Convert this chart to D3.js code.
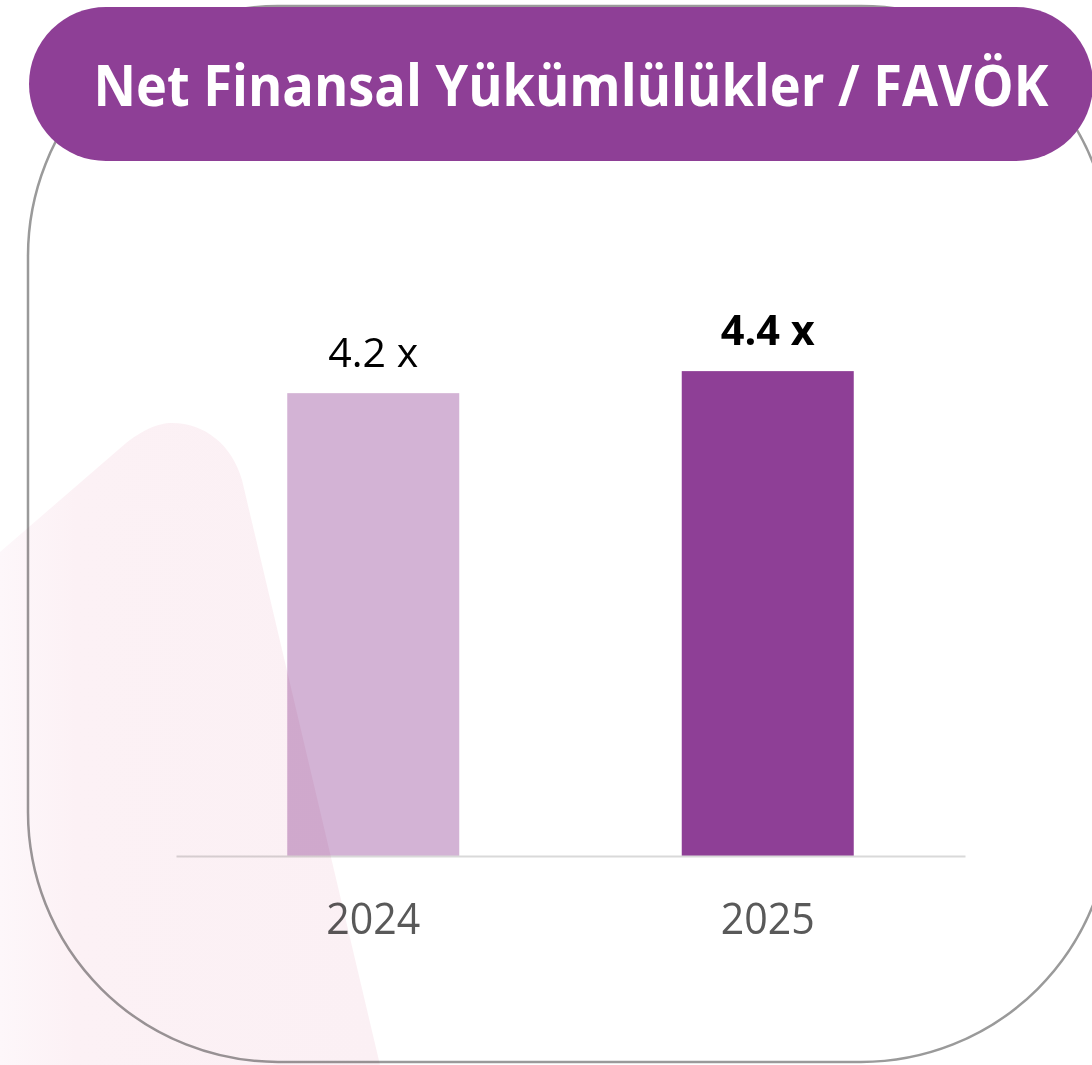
<!DOCTYPE html>
<html>
<head>
<meta charset="utf-8">
<script src="https://cdn.jsdelivr.net/npm/d3@7"></script>
<style>
  html, body { margin: 0; padding: 0; background: #fff; }
  svg { display: block; }
  text { font-family: "Open Sans", "Noto Sans", sans-serif; }
</style>
</head>
<body>
<div id="chart"></div>
<script>
// chart data
var title = "Net Finansal Yükümlülükler / FAVÖK";
var years = ["2024", "2025"];
var ratios = [4.2, 4.4];

var svgWidth = 1092;
var svgHeight = 1065;

var margin = { top: 305, right: 127, bottom: 209, left: 176 };
var width = svgWidth - margin.left - margin.right;
var height = svgHeight - margin.top - margin.bottom;

var barColors = ["#D3B3D5", "#8E3F96"];
var purple = "#8E3F96";

var svg = d3.select("#chart")
    .append("svg")
    .attr("width", svgWidth)
    .attr("height", svgHeight);

// soft pink shape gradient
var defs = svg.append("defs");
var grad = defs.append("linearGradient")
    .attr("id", "pinkFade")
    .attr("x1", "0").attr("x2", "1").attr("y1", "0").attr("y2", "0");
grad.append("stop").attr("offset", "0").attr("stop-color", "#FDF7FA");
grad.append("stop").attr("offset", "0.2").attr("stop-color", "#FCF1F5");
grad.append("stop").attr("offset", "1").attr("stop-color", "#FBF0F4");

// outer rounded frame
svg.append("rect")
    .attr("x", 28)
    .attr("y", 6)
    .attr("width", 1083)
    .attr("height", 1056)
    .attr("rx", 250)
    .attr("ry", 250)
    .attr("fill", "none")
    .attr("stroke", "#9A9A9A")
    .attr("stroke-width", 2.5);

var chartGroup = svg.append("g")
    .attr("transform", `translate(${margin.left}, ${margin.top})`);

var xScale = d3.scaleBand()
    .domain(years)
    .range([0, width])
    .paddingInner(0.564)
    .paddingOuter(0.282);

var yScale = d3.scaleLinear()
    .domain([0, 5])
    .range([height, 0]);

// bars
chartGroup.selectAll("rect.bar")
    .data(ratios)
    .enter()
    .append("rect")
    .attr("class", "bar")
    .attr("x", (d, i) => xScale(years[i]))
    .attr("y", d => yScale(d))
    .attr("width", xScale.bandwidth())
    .attr("height", d => height - yScale(d))
    .attr("fill", (d, i) => barColors[i]);

// baseline + year labels
var bottomAxis = d3.axisBottom(xScale).tickSize(0).tickPadding(47);
var axisG = chartGroup.append("g")
    .attr("transform", `translate(0, ${height})`)
    .call(bottomAxis);
axisG.select(".domain")
    .attr("stroke", "#D9D9D9")
    .attr("stroke-width", 2);
axisG.selectAll("text")
    .attr("font-size", "43px")
    .attr("fill", "#595959")
    .attr("font-family", "'Open Sans', sans-serif")
    .attr("textLength", 94)
    .attr("lengthAdjust", "spacingAndGlyphs");

// value labels
chartGroup.selectAll("text.value")
    .data(ratios)
    .enter()
    .append("text")
    .attr("class", "value")
    .attr("x", (d, i) => xScale(years[i]) + xScale.bandwidth() / 2)
    .attr("y", d => yScale(d) - 26)
    .attr("text-anchor", "middle")
    .attr("font-size", "41px")
    .attr("font-weight", (d, i) => i === ratios.length - 1 ? "bold" : "normal")
    .attr("fill", "#000")
    .attr("textLength", (d, i) => i === ratios.length - 1 ? 94 : 90)
    .attr("lengthAdjust", "spacingAndGlyphs")
    .text(d => d.toFixed(1) + " x");

// pink shape on top, multiplied
svg.append("path")
    .attr("d", "M0,552 L118,450 C140,430 158,423 172,423 C205,423 232,445 242,480 L380,1065 L0,1065 Z")
    .attr("fill", "url(#pinkFade)")
    .style("mix-blend-mode", "multiply");

// title pill
svg.append("rect")
    .attr("x", 29)
    .attr("y", 7)
    .attr("width", 1064)
    .attr("height", 154)
    .attr("rx", 77)
    .attr("ry", 77)
    .attr("fill", purple);

// title, stretched vertically so the narrow look of the original fits
svg.append("g")
    .attr("transform", "translate(571, 106) scale(1, 1.2)")
    .append("text")
    .attr("x", 0)
    .attr("y", 0)
    .attr("text-anchor", "middle")
    .attr("font-size", "48px")
    .attr("font-weight", "bold")
    .attr("fill", "#fff")
    .attr("textLength", 955)
    .attr("lengthAdjust", "spacingAndGlyphs")
    .text(title);
</script>
</body>
</html>
